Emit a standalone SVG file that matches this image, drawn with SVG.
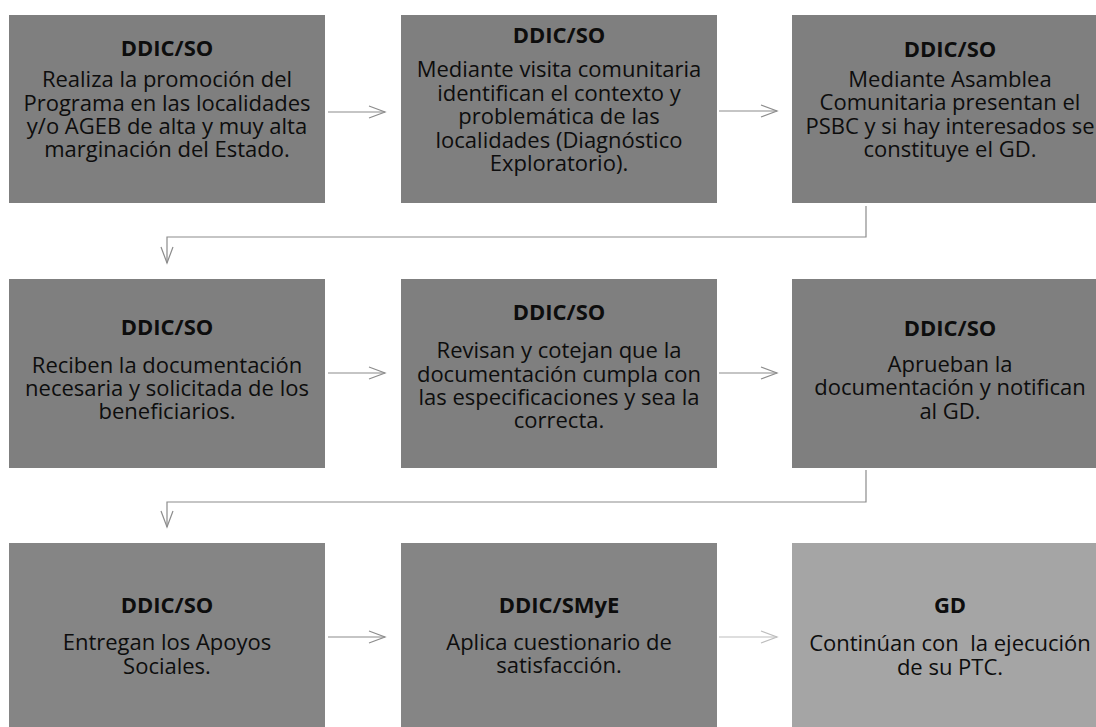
<svg xmlns="http://www.w3.org/2000/svg" width="1096" height="727" viewBox="0 0 1096 727">
<defs>
<style>
.box{fill:#7f7f7f}
.box3{fill:#858585}
.boxl{fill:#a5a5a5}
.t{font-family:"Open Sans","Liberation Sans",sans-serif;font-size:22px;font-weight:bold;fill:#0d0d0d;text-anchor:middle}
.b{font-family:"Open Sans","Liberation Sans",sans-serif;font-size:22px;fill:#0d0d0d;text-anchor:middle}
.c{fill:none;stroke:#8c8c8c;stroke-width:1.2}
.cl{fill:none;stroke:#bdbdbd;stroke-width:1.2}
</style>
<marker id="ah" markerWidth="20" markerHeight="16" viewBox="-17 -8 20 16" refX="0" refY="0" orient="auto" markerUnits="userSpaceOnUse">
<path d="M-16,-6 L0,0 L-16,6" fill="none" stroke="#8c8c8c" stroke-width="1.2"/>
</marker>
<marker id="ahl" markerWidth="20" markerHeight="16" viewBox="-17 -8 20 16" refX="0" refY="0" orient="auto" markerUnits="userSpaceOnUse">
<path d="M-16,-6 L0,0 L-16,6" fill="none" stroke="#bdbdbd" stroke-width="1.2"/>
</marker>
</defs>
<rect width="1096" height="727" fill="#ffffff"/>
<g id="connectors">
<path class="c" d="M328,112 H385" marker-end="url(#ah)"/>
<path class="c" d="M719,111 H777" marker-end="url(#ah)"/>
<path class="c" d="M866,206 V237 H167 V263" marker-end="url(#ah)"/>
<path class="c" d="M328,373 H385" marker-end="url(#ah)"/>
<path class="c" d="M719,373 H777" marker-end="url(#ah)"/>
<path class="c" d="M866,470 V502 H167 V527" marker-end="url(#ah)"/>
<path class="c" d="M328,637 H385" marker-end="url(#ah)"/>
<path class="cl" d="M719,637 H777" marker-end="url(#ahl)"/>
</g>
<g id="n1">
<rect class="box" x="9" y="15" width="316" height="188"/>
<text class="t" x="167" y="56">DDIC/SO</text>
<text class="b" x="167" y="87">Realiza la promoción del</text>
<text class="b" x="167" y="110.5">Programa en las localidades</text>
<text class="b" x="167" y="134">y/o AGEB de alta y muy alta</text>
<text class="b" x="167" y="157">marginación del Estado.</text>
</g>
<g id="n2">
<rect class="box" x="401" y="15" width="316" height="188"/>
<text class="t" x="559" y="43">DDIC/SO</text>
<text class="b" x="559" y="77">Mediante visita comunitaria</text>
<text class="b" x="559" y="100.5">identifican el contexto y</text>
<text class="b" x="559" y="124">problemática de las</text>
<text class="b" x="559" y="147.5">localidades (Diagnóstico</text>
<text class="b" x="559" y="171">Exploratorio).</text>
</g>
<g id="n3">
<rect class="box" x="792" y="15" width="316" height="188"/>
<text class="t" x="950" y="56.5">DDIC/SO</text>
<text class="b" x="950" y="86.5">Mediante Asamblea</text>
<text class="b" x="950" y="110">Comunitaria presentan el</text>
<text class="b" x="950" y="133.5">PSBC y si hay interesados se</text>
<text class="b" x="950" y="157">constituye el GD.</text>
</g>
<g id="n4">
<rect class="box" x="9" y="279" width="316" height="189"/>
<text class="t" x="167" y="335">DDIC/SO</text>
<text class="b" x="167" y="372.5">Reciben la documentación</text>
<text class="b" x="167" y="396">necesaria y solicitada de los</text>
<text class="b" x="167" y="419">beneficiarios.</text>
</g>
<g id="n5">
<rect class="box" x="401" y="279" width="316" height="189"/>
<text class="t" x="559" y="319.5">DDIC/SO</text>
<text class="b" x="559" y="358">Revisan y cotejan que la</text>
<text class="b" x="559" y="381.5">documentación cumpla con</text>
<text class="b" x="559" y="405">las especificaciones y sea la</text>
<text class="b" x="559" y="428">correcta.</text>
</g>
<g id="n6">
<rect class="box" x="792" y="279" width="316" height="189"/>
<text class="t" x="950" y="335.5">DDIC/SO</text>
<text class="b" x="950" y="371.5">Aprueban la</text>
<text class="b" x="950" y="395">documentación y notifican</text>
<text class="b" x="950" y="418.5">al GD.</text>
</g>
<g id="n7">
<rect class="box3" x="9" y="543" width="316" height="188"/>
<text class="t" x="167" y="613">DDIC/SO</text>
<text class="b" x="167" y="650">Entregan los Apoyos</text>
<text class="b" x="167" y="673.5">Sociales.</text>
</g>
<g id="n8">
<rect class="box3" x="401" y="543" width="316" height="188"/>
<text class="t" x="559" y="612.5">DDIC/SMyE</text>
<text class="b" x="559" y="649.5">Aplica cuestionario de</text>
<text class="b" x="559" y="673">satisfacción.</text>
</g>
<g id="n9">
<rect class="boxl" x="792" y="543" width="316" height="188"/>
<text class="t" x="950" y="612.5">GD</text>
<text class="b" x="950" y="651" style="white-space:pre">Continúan con  la ejecución</text>
<text class="b" x="950" y="674.5">de su PTC.</text>
</g>
</svg>
